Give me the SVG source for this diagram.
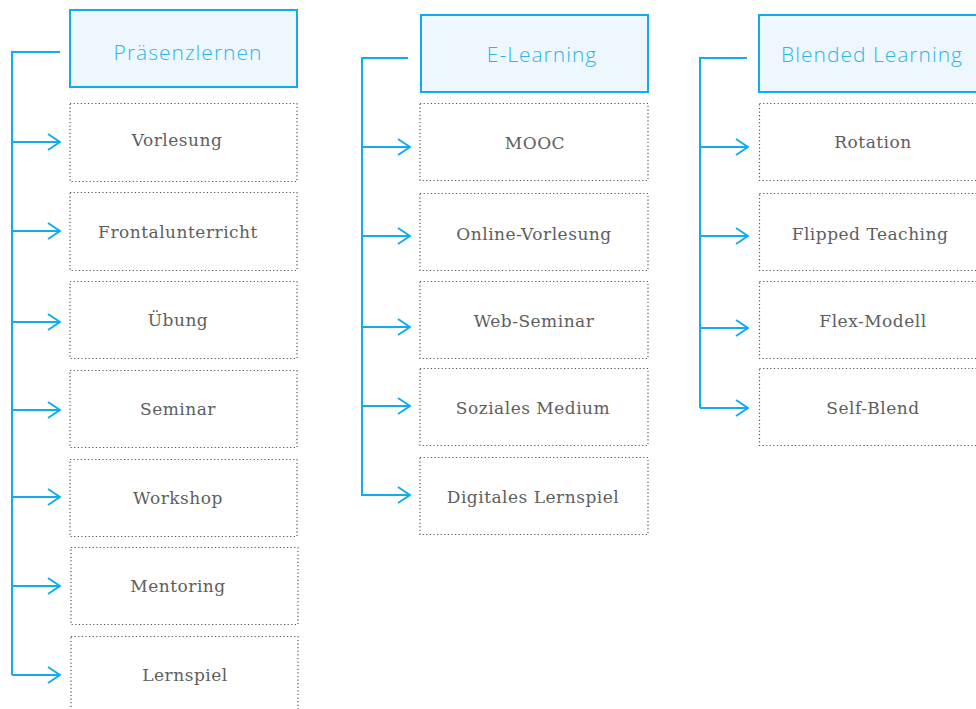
<svg xmlns="http://www.w3.org/2000/svg" width="976" height="709" viewBox="0 0 976 709">
<defs>
<marker id="arr" viewBox="0 0 14 18" refX="13" refY="9" markerWidth="14" markerHeight="18" markerUnits="userSpaceOnUse" orient="auto">
<polyline points="1,1 13,9 1,17" fill="none" stroke="#12acec" stroke-width="2"/>
</marker>
<style>
.hd{fill:#eef7fd;stroke:#12acec;stroke-width:2}
.bx{fill:#fff;stroke:#555;stroke-width:1.2;stroke-dasharray:1.2 2.4}
.ht{font-family:"Open Sans","Liberation Sans",sans-serif;font-weight:300;font-size:21px;letter-spacing:1px;fill:#2bb5ea;text-anchor:middle}
.bt{font-family:"DejaVu Serif","Liberation Serif",serif;font-size:17px;letter-spacing:0.5px;fill:#5e5e5e;text-anchor:middle}
.ln{fill:none;stroke:#12acec;stroke-width:2}
.ar{fill:none;stroke:#12acec;stroke-width:2;marker-end:url(#arr)}
</style>
</defs>
<rect width="976" height="709" fill="#fff"/>
<g id="connectors">
<polyline class="ln" points="60,52 12,52 12,675"/>
<line class="ar" x1="12" y1="142" x2="60" y2="142"/>
<line class="ar" x1="12" y1="231" x2="60" y2="231"/>
<line class="ar" x1="12" y1="322" x2="60" y2="322"/>
<line class="ar" x1="12" y1="410" x2="60" y2="410"/>
<line class="ar" x1="12" y1="497" x2="60" y2="497"/>
<line class="ar" x1="12" y1="586" x2="60" y2="586"/>
<line class="ar" x1="12" y1="675" x2="60" y2="675"/>
<polyline class="ln" points="408,58 362,58 362,496"/>
<line class="ar" x1="362" y1="147" x2="410" y2="147"/>
<line class="ar" x1="362" y1="236" x2="410" y2="236"/>
<line class="ar" x1="362" y1="327" x2="410" y2="327"/>
<line class="ar" x1="362" y1="406" x2="410" y2="406"/>
<line class="ar" x1="362" y1="495" x2="410" y2="495"/>
<polyline class="ln" points="747,58 700,58 700,408"/>
<line class="ar" x1="700" y1="147" x2="748" y2="147"/>
<line class="ar" x1="700" y1="236" x2="748" y2="236"/>
<line class="ar" x1="700" y1="328" x2="748" y2="328"/>
<line class="ar" x1="700" y1="408" x2="748" y2="408"/>
</g>
<g id="praesenzlernen"><rect class="hd" x="70" y="10" width="227" height="77"/><text class="ht" x="188" y="60">Präsenzlernen</text></g>
<g id="vorlesung"><rect class="bx" x="70" y="103.5" width="227" height="78"/><text class="bt" x="177" y="146">Vorlesung</text></g>
<g id="frontalunterricht"><rect class="bx" x="70" y="192.5" width="227" height="78"/><text class="bt" x="178" y="238">Frontalunterricht</text></g>
<g id="uebung"><rect class="bx" x="70" y="281.5" width="227" height="77"/><text class="bt" x="178" y="326">Übung</text></g>
<g id="seminar"><rect class="bx" x="70" y="370.5" width="227" height="77"/><text class="bt" x="178" y="415">Seminar</text></g>
<g id="workshop"><rect class="bx" x="70" y="459.5" width="227" height="77"/><text class="bt" x="178" y="504">Workshop</text></g>
<g id="mentoring"><rect class="bx" x="71" y="547.5" width="227" height="77"/><text class="bt" x="178" y="592">Mentoring</text></g>
<g id="lernspiel"><rect class="bx" x="71" y="636.5" width="227" height="80"/><text class="bt" x="185" y="681">Lernspiel</text></g>
<g id="elearning"><rect class="hd" x="421" y="15" width="227" height="77"/><text class="ht" x="542" y="62">E-Learning</text></g>
<g id="mooc"><rect class="bx" x="420" y="103.5" width="228" height="77"/><text class="bt" x="535" y="149">MOOC</text></g>
<g id="online-vorlesung"><rect class="bx" x="420" y="193.5" width="228" height="77"/><text class="bt" x="534" y="240">Online-Vorlesung</text></g>
<g id="web-seminar"><rect class="bx" x="420" y="281.5" width="228" height="77"/><text class="bt" x="534" y="327">Web-Seminar</text></g>
<g id="soziales-medium"><rect class="bx" x="420" y="368.5" width="228" height="77"/><text class="bt" x="533" y="414">Soziales Medium</text></g>
<g id="digitales-lernspiel"><rect class="bx" x="420" y="457.5" width="228" height="77"/><text class="bt" x="533" y="503">Digitales Lernspiel</text></g>
<g id="blended"><rect class="hd" x="759" y="15" width="230" height="77"/><text class="ht" x="872" y="62">Blended Learning</text></g>
<g id="rotation"><rect class="bx" x="759.5" y="103.5" width="230" height="77"/><text class="bt" x="873" y="148">Rotation</text></g>
<g id="flipped"><rect class="bx" x="759.5" y="193.5" width="230" height="77"/><text class="bt" x="870" y="240">Flipped Teaching</text></g>
<g id="flex"><rect class="bx" x="759.5" y="281.5" width="230" height="77"/><text class="bt" x="873" y="327">Flex-Modell</text></g>
<g id="selfblend"><rect class="bx" x="759.5" y="368.5" width="230" height="77"/><text class="bt" x="873" y="414">Self-Blend</text></g>
</svg>
